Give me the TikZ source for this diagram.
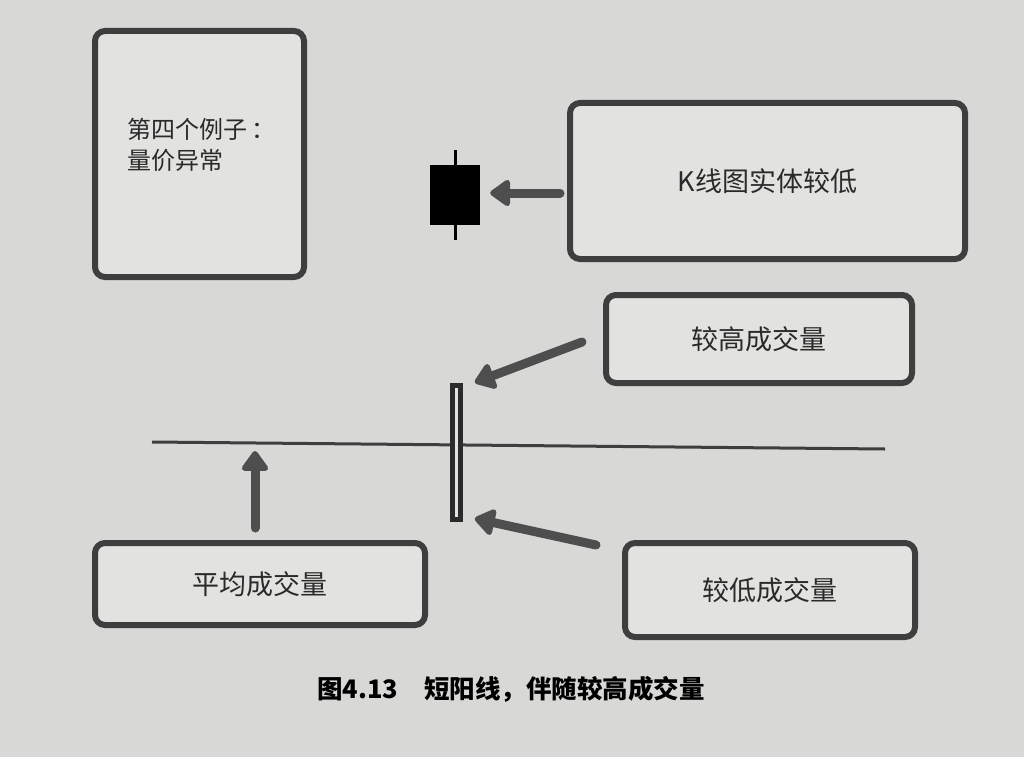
\documentclass[tikz,border=0pt]{standalone}
\usepackage{fontspec}
\setmainfont{Noto Sans CJK SC}
\usetikzlibrary{arrows.meta}
\definecolor{paper}{HTML}{D8D8D6}
\definecolor{boxfill}{HTML}{E2E2E0}
\definecolor{edge}{HTML}{3E3E3E}
\definecolor{arrowc}{HTML}{4E4E4E}
\definecolor{txt}{HTML}{2A2A2A}
\tikzset{
  card/.style={draw=edge, line width=6pt, rounded corners=10pt, fill=boxfill,
    inner sep=0pt, text=txt, font=\fontsize{27}{32}\selectfont},
  fatarrow/.style={draw=arrowc, line width=9pt, line cap=round,
    -{Triangle[length=22pt,width=30pt,round]}},
}
\begin{document}
\begin{tikzpicture}[x=1pt,y=-1pt]
\fill[paper] (0,0) rectangle (1024,757);
\useasboundingbox (0,0) rectangle (1024,757);

% boxes
\node[card, minimum width=209pt, minimum height=246pt] (ex) at (199.5,154) {};
\node[text=txt, font=\fontsize{24}{31}\selectfont, align=left, anchor=north west] (extxt) at (124,115) {第四个例子\,：\\量价异常};
\node[card, minimum width=395pt, minimum height=156pt] (kbox) at (767.5,181) {K线图实体较低};
\node[card, minimum width=306pt, minimum height=88pt] (hbox) at (759,339) {较高成交量};
\node[card, minimum width=330pt, minimum height=82pt] (abox) at (260,584) {平均成交量};
\node[card, minimum width=290pt, minimum height=94pt] (lbox) at (770,590) {较低成交量};

% candle
\coordinate (wt) at (455,150);
\coordinate (wb) at (455,240);
\draw[black, line width=3pt] (wt) -- (wb);
\node[fill=black, minimum width=50pt, minimum height=60pt, inner sep=0pt] (candle) at (455,195) {};

% horizontal line
\coordinate (hl) at (152,442);
\coordinate (hr) at (885,449);
\draw[edge, line width=3pt] (hl) -- (hr);

% short bar
\node[draw=edge!70!black, line width=5pt, fill=boxfill, minimum width=7.5pt, minimum height=134pt, inner sep=0pt] (bar) at (456.5,452) {};

% arrows
\coordinate (kt) at (560,193);
\coordinate (ht) at (582,342);
\coordinate (lt) at (596,545);
\coordinate (at) at (255,528);
\draw[fatarrow] (kt) -- ([xshift=10pt]candle.east |- kt);
\draw[fatarrow] (ht) -- ([xshift=12pt,yshift=0pt]bar.north east);
\draw[fatarrow] (lt) -- ([xshift=12pt,yshift=3pt]bar.south east);
\draw[fatarrow] (at) -- (at |- 0,451);

% caption
\node[text=black, font=\fontsize{25.5}{30}\selectfont\bfseries] (cap) at (511,689) {图4.13\hspace{1em}短阳线，伴随较高成交量};
\end{tikzpicture}
\end{document}
